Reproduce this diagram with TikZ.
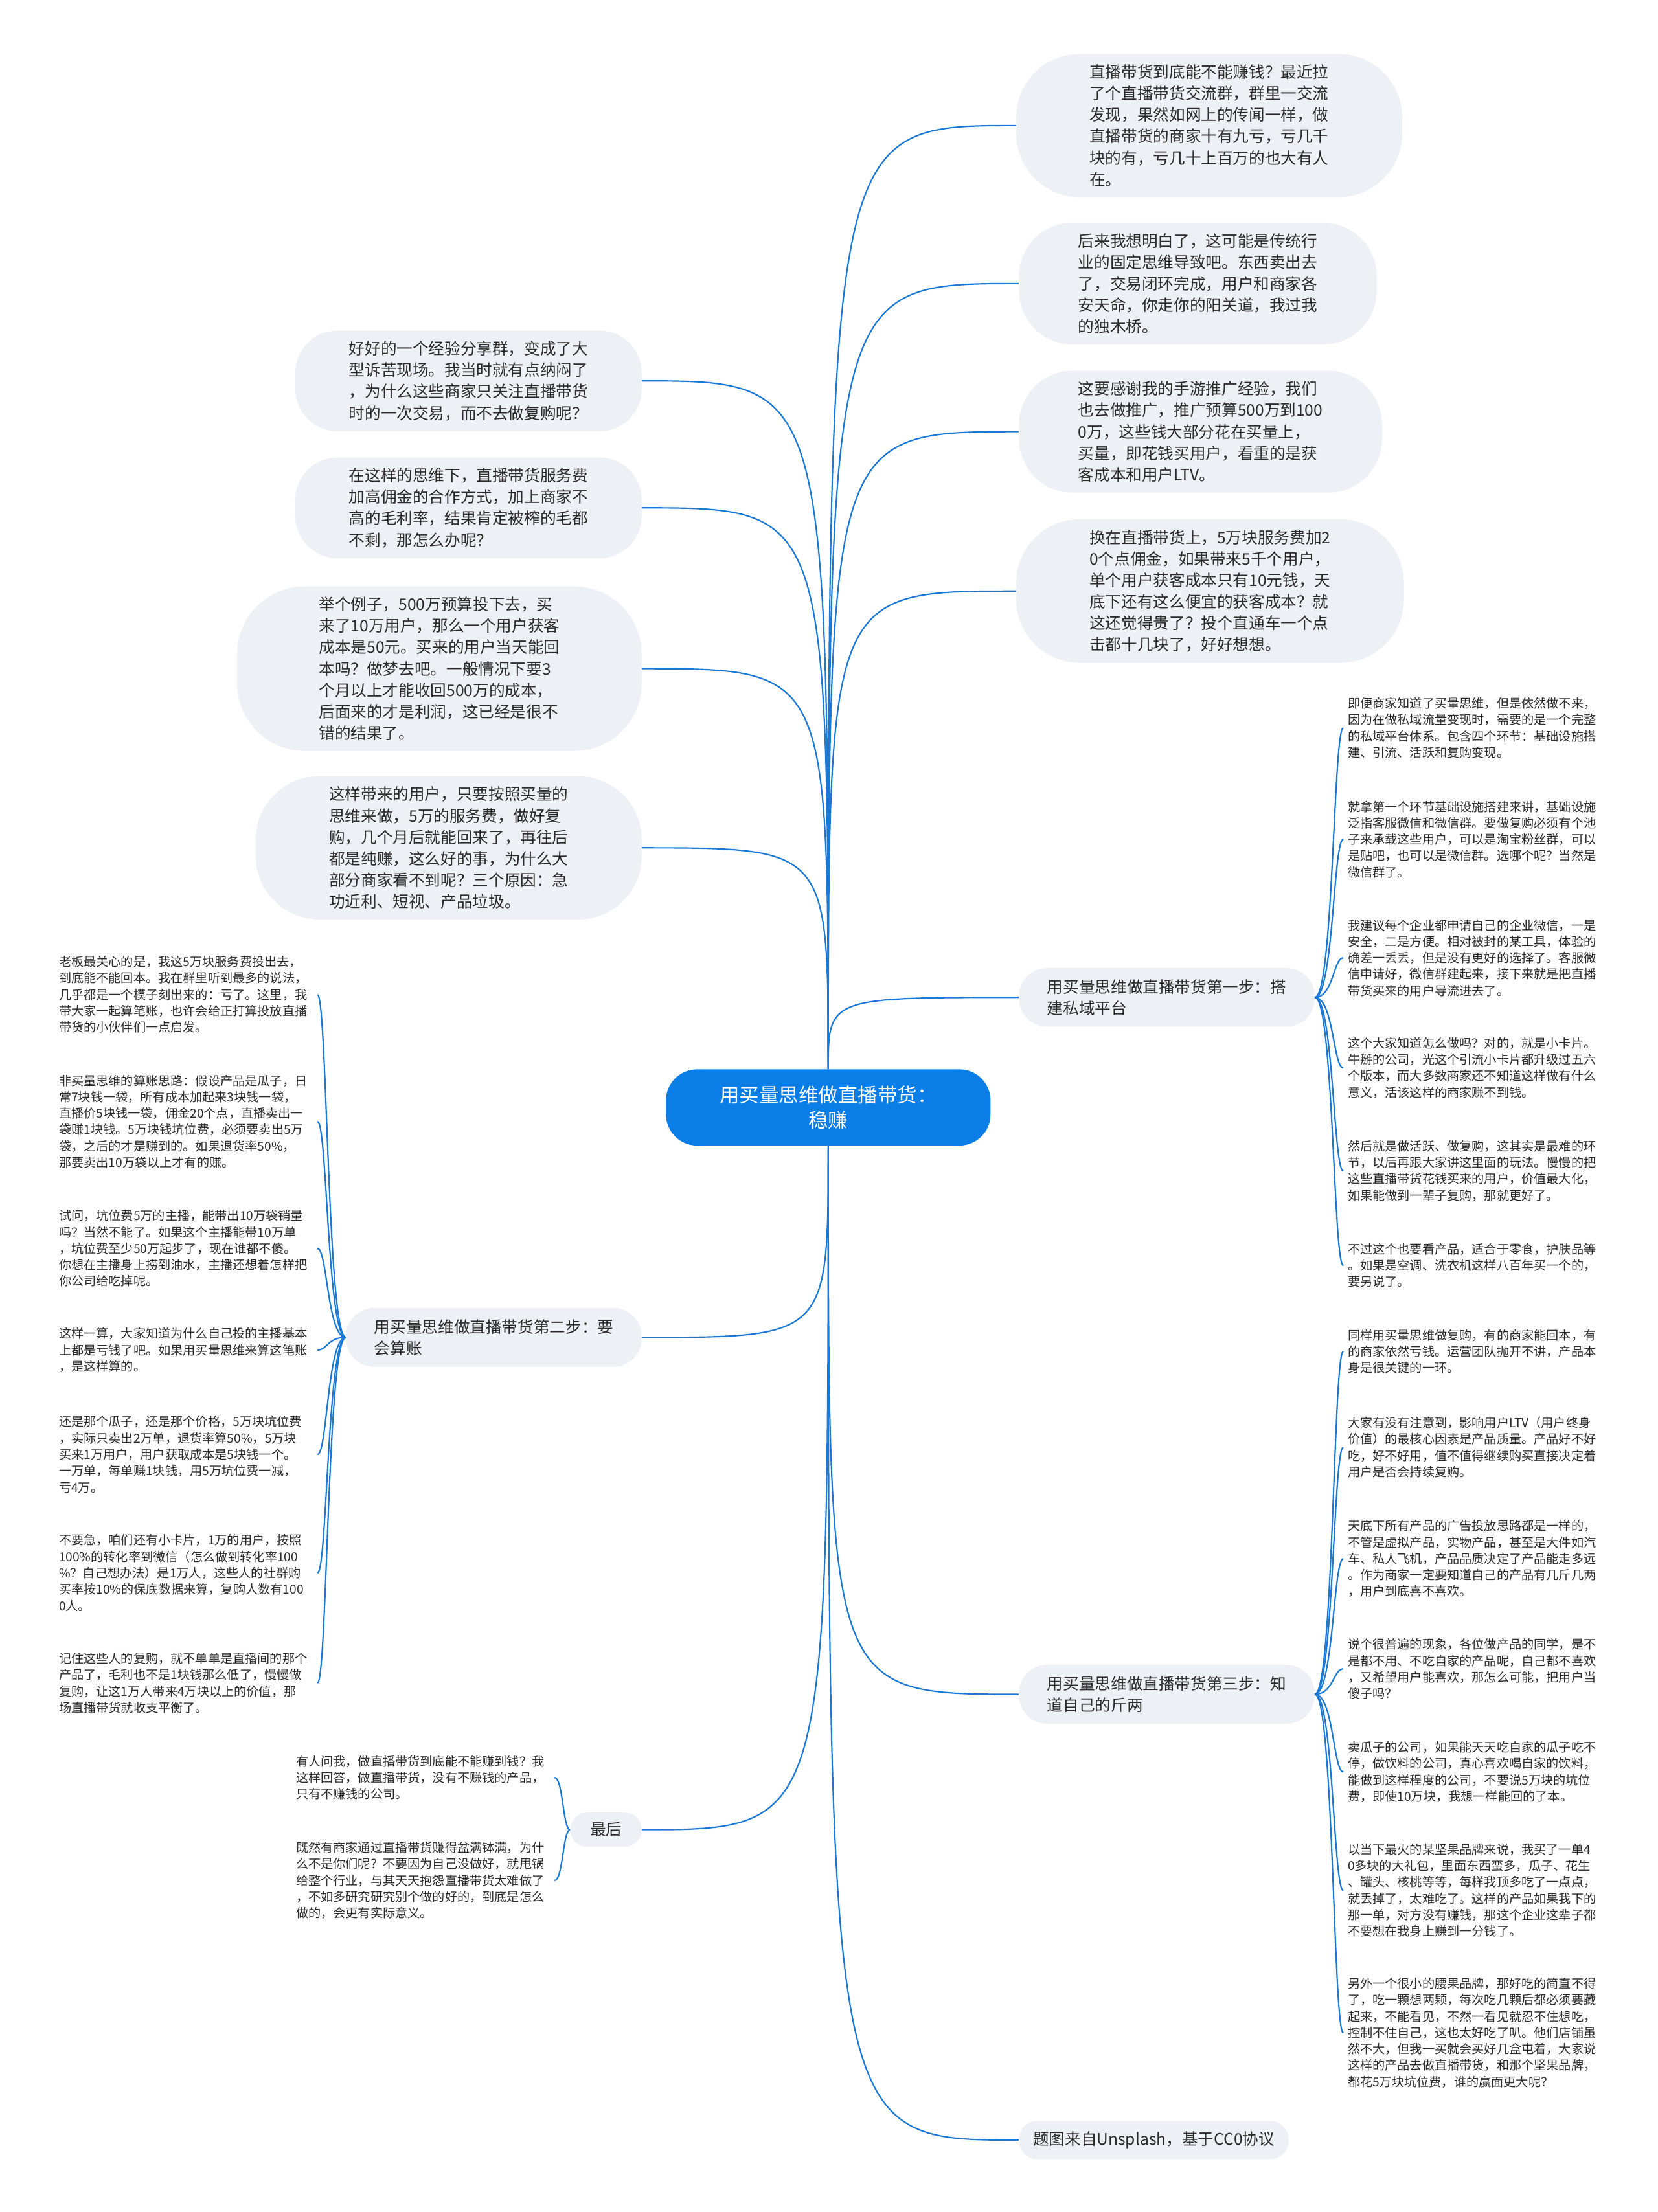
\documentclass[tikz,border=0pt]{standalone}
\usepackage{fontspec}
\setmainfont{Noto Sans CJK SC}
\usetikzlibrary{calc}
\definecolor{mapblue}{HTML}{1A78D6}
\definecolor{rootblue}{HTML}{0A7DE6}
\definecolor{bubblegray}{HTML}{EDF0F4}
\definecolor{inkgray}{HTML}{2B2B2B}
\tikzset{
  link/.style={draw=mapblue, line width=1pt},
  rootbox/.style={rectangle, rounded corners=22pt, fill=rootblue, text=white,
                  align=center, minimum width=230pt, minimum height=54pt,
                  font=\fontsize{14}{18}\selectfont},
  bubble/.style={rectangle, rounded corners=#1, fill=bubblegray, text=inkgray,
                 align=left, inner ysep=7.5pt, font=\fontsize{11.3}{15.2}\selectfont},
  bubble/.default=30pt,
  branch/.style={rectangle, rounded corners=#1, fill=bubblegray, text=inkgray,
                 align=left, inner xsep=20pt, inner ysep=8pt,
                 font=\fontsize{11.3}{15.2}\selectfont},
  branch/.default=20pt,
  note/.style={text width=180pt, inner sep=3pt, align=left, text=inkgray,
               font=\fontsize{8.8}{11.6}\selectfont},
}

\begin{document}
\begin{tikzpicture}[x=1pt, y=-1pt]
  \useasboundingbox[fill=white] (0,0) rectangle (1175,1568);

  % Root
  \node[rootbox] (root) at (587,785) {用买量思维做直播带货：\\稳赚};

  % Right bubbles
  \node[bubble=45pt, anchor=west, inner xsep=52pt] (r1) at (720,89)
    {直播带货到底能不能赚钱？最近拉\\了个直播带货交流群，群里一交流\\发现，果然如网上的传闻一样，做\\直播带货的商家十有九亏，亏几千\\块的有，亏几十上百万的也大有人\\在。};
  \node[bubble=38pt, anchor=west, inner xsep=42pt] (r2) at (722,201)
    {后来我想明白了，这可能是传统行\\业的固定思维导致吧。东西卖出去\\了，交易闭环完成，用户和商家各\\安天命，你走你的阳关道，我过我\\的独木桥。};
  \node[bubble=38pt, anchor=west, inner xsep=42pt] (r3) at (722,306)
    {这要感谢我的手游推广经验，我们\\也去做推广，推广预算500万到100\\0万，这些钱大部分花在买量上，\\买量，即花钱买用户，看重的是获\\客成本和用户LTV。};
  \node[bubble=45pt, anchor=west, inner xsep=52pt] (r4) at (720,419)
    {换在直播带货上，5万块服务费加2\\0个点佣金，如果带来5千个用户，\\单个用户获客成本只有10元钱，天\\底下还有这么便宜的获客成本？就\\这还觉得贵了？投个直通车一个点\\击都十几块了，好好想想。};

  % Left bubbles
  \node[bubble=30pt, anchor=east, inner xsep=38pt] (l1) at (455,270)
    {好好的一个经验分享群，变成了大\\型诉苦现场。我当时就有点纳闷了\\，为什么这些商家只关注直播带货\\时的一次交易，而不去做复购呢？};
  \node[bubble=30pt, anchor=east, inner xsep=38pt] (l2) at (455,360)
    {在这样的思维下，直播带货服务费\\加高佣金的合作方式，加上商家不\\高的毛利率，结果肯定被榨的毛都\\不剩，那怎么办呢？};
  \node[bubble=48pt, anchor=east, inner xsep=58pt] (l3) at (455,474)
    {举个例子，500万预算投下去，买\\来了10万用户，那么一个用户获客\\成本是50元。买来的用户当天能回\\本吗？做梦去吧。一般情况下要3\\个月以上才能收回500万的成本，\\后面来的才是利润，这已经是很不\\错的结果了。};
  \node[bubble=45pt, anchor=east, inner xsep=52pt] (l4) at (455,601)
    {这样带来的用户，只要按照买量的\\思维来做，5万的服务费，做好复\\购，几个月后就能回来了，再往后\\都是纯赚，这么好的事，为什么大\\部分商家看不到呢？三个原因：急\\功近利、短视、产品垃圾。};

  % Branches
  \node[branch, anchor=west] (b1) at (722,707) {用买量思维做直播带货第一步：搭\\建私域平台};
  \node[branch, anchor=east] (b2) at (455,948) {用买量思维做直播带货第二步：要\\会算账};
  \node[branch, anchor=west] (b3) at (722,1201) {用买量思维做直播带货第三步：知\\道自己的斤两};
  \node[branch=12pt, anchor=east, inner xsep=14pt, inner ysep=7pt] (b4) at (455,1297) {最后};
  \node[branch=13pt, anchor=west, inner xsep=10pt, inner ysep=7.5pt] (b5) at (722,1517) {题图来自Unsplash，基于CC0协议};

  % Step one notes
  \node[note, anchor=west] (s1a) at (952,516) {即便商家知道了买量思维，但是依然做不来，\\因为在做私域流量变现时，需要的是一个完整\\的私域平台体系。包含四个环节：基础设施搭\\建、引流、活跃和复购变现。};
  \node[note, anchor=west] (s1b) at (952,595) {就拿第一个环节基础设施搭建来讲，基础设施\\泛指客服微信和微信群。要做复购必须有个池\\子来承载这些用户，可以是淘宝粉丝群，可以\\是贴吧，也可以是微信群。选哪个呢？当然是\\微信群了。};
  \node[note, anchor=west] (s1c) at (952,679) {我建议每个企业都申请自己的企业微信，一是\\安全，二是方便。相对被封的某工具，体验的\\确差一丢丢，但是没有更好的选择了。客服微\\信申请好，微信群建起来，接下来就是把直播\\带货买来的用户导流进去了。};
  \node[note, anchor=west] (s1d) at (952,757) {这个大家知道怎么做吗？对的，就是小卡片。\\牛掰的公司，光这个引流小卡片都升级过五六\\个版本，而大多数商家还不知道这样做有什么\\意义，活该这样的商家赚不到钱。};
  \node[note, anchor=west] (s1e) at (952,830) {然后就是做活跃、做复购，这其实是最难的环\\节，以后再跟大家讲这里面的玩法。慢慢的把\\这些直播带货花钱买来的用户，价值最大化，\\如果能做到一辈子复购，那就更好了。};
  \node[note, anchor=west] (s1f) at (952,897) {不过这个也要看产品，适合于零食，护肤品等\\。如果是空调、洗衣机这样八百年买一个的，\\要另说了。};

  % Step two notes
  \node[note, anchor=east] (s2a) at (225,705) {老板最关心的是，我这5万块服务费投出去，\\到底能不能回本。我在群里听到最多的说法，\\几乎都是一个模子刻出来的：亏了。这里，我\\带大家一起算笔账，也许会给正打算投放直播\\带货的小伙伴们一点启发。};
  \node[note, anchor=east] (s2b) at (225,795) {非买量思维的算账思路：假设产品是瓜子，日\\常7块钱一袋，所有成本加起来3块钱一袋，\\直播价5块钱一袋，佣金20个点，直播卖出一\\袋赚1块钱。5万块钱坑位费，必须要卖出5万\\袋，之后的才是赚到的。如果退货率50\%，\\那要卖出10万袋以上才有的赚。};
  \node[note, anchor=east] (s2c) at (225,885) {试问，坑位费5万的主播，能带出10万袋销量\\吗？当然不能了。如果这个主播能带10万单\\，坑位费至少50万起步了，现在谁都不傻。\\你想在主播身上捞到油水，主播还想着怎样把\\你公司给吃掉呢。};
  \node[note, anchor=east] (s2d) at (225,957) {这样一算，大家知道为什么自己投的主播基本\\上都是亏钱了吧。如果用买量思维来算这笔账\\，是这样算的。};
  \node[note, anchor=east] (s2e) at (225,1031) {还是那个瓜子，还是那个价格，5万块坑位费\\，实际只卖出2万单，退货率算50\%，5万块\\买来1万用户，用户获取成本是5块钱一个。\\一万单，每单赚1块钱，用5万坑位费一减，\\亏4万。};
  \node[note, anchor=east] (s2f) at (225,1115) {不要急，咱们还有小卡片，1万的用户，按照\\100\%的转化率到微信（怎么做到转化率100\\\%？自己想办法）是1万人，这些人的社群购\\买率按10\%的保底数据来算，复购人数有100\\0人。};
  \node[note, anchor=east] (s2g) at (225,1193) {记住这些人的复购，就不单单是直播间的那个\\产品了，毛利也不是1块钱那么低了，慢慢做\\复购，让这1万人带来4万块以上的价值，那\\场直播带货就收支平衡了。};

  % Step three notes
  \node[note, anchor=west] (s3a) at (952,958) {同样用买量思维做复购，有的商家能回本，有\\的商家依然亏钱。运营团队抛开不讲，产品本\\身是很关键的一环。};
  \node[note, anchor=west] (s3b) at (952,1026) {大家有没有注意到，影响用户LTV（用户终身\\价值）的最核心因素是产品质量。产品好不好\\吃，好不好用，值不值得继续购买直接决定着\\用户是否会持续复购。};
  \node[note, anchor=west] (s3c) at (952,1105) {天底下所有产品的广告投放思路都是一样的，\\不管是虚拟产品，实物产品，甚至是大件如汽\\车、私人飞机，产品品质决定了产品能走多远\\。作为商家一定要知道自己的产品有几斤几两\\，用户到底喜不喜欢。};
  \node[note, anchor=west] (s3d) at (952,1183) {说个很普遍的现象，各位做产品的同学，是不\\是都不用、不吃自家的产品呢，自己都不喜欢\\，又希望用户能喜欢，那怎么可能，把用户当\\傻子吗？};
  \node[note, anchor=west] (s3e) at (952,1256) {卖瓜子的公司，如果能天天吃自家的瓜子吃不\\停，做饮料的公司，真心喜欢喝自家的饮料，\\能做到这样程度的公司，不要说5万块的坑位\\费，即使10万块，我想一样能回的了本。};
  \node[note, anchor=west] (s3f) at (952,1340) {以当下最火的某坚果品牌来说，我买了一单4\\0多块的大礼包，里面东西蛮多，瓜子、花生\\、罐头、核桃等等，每样我顶多吃了一点点，\\就丢掉了，太难吃了。这样的产品如果我下的\\那一单，对方没有赚钱，那这个企业这辈子都\\不要想在我身上赚到一分钱了。};
  \node[note, anchor=west] (s3g) at (952,1441) {另外一个很小的腰果品牌，那好吃的简直不得\\了，吃一颗想两颗，每次吃几颗后都必须要藏\\起来，不能看见，不然一看见就忍不住想吃，\\控制不住自己，这也太好吃了叭。他们店铺虽\\然不大，但我一买就会买好几盒屯着，大家说\\这样的产品去做直播带货，和那个坚果品牌，\\都花5万块坑位费，谁的赢面更大呢？};

  % Closing notes
  \node[note, anchor=east] (s4a) at (393,1260) {有人问我，做直播带货到底能不能赚到钱？我\\这样回答，做直播带货，没有不赚钱的产品，\\只有不赚钱的公司。};
  \node[note, anchor=east] (s4b) at (393,1333) {既然有商家通过直播带货赚得盆满钵满，为什\\么不是你们呢？不要因为自己没做好，就甩锅\\给整个行业，与其天天抱怨直播带货太难做了\\，不如多研究研究别个做的好的，到底是怎么\\做的，会更有实际意义。};

  % Root links
  \foreach \n in {r1,r2,r3,r4,b1}
    \draw[link] (root.north) .. controls (root.north |- \n.west) .. (\n.west);
  \foreach \n in {l1,l2,l3,l4}
    \draw[link] (root.north) .. controls (root.north |- \n.east) .. (\n.east);
  \foreach \n in {b3,b5}
    \draw[link] (root.south) .. controls (root.south |- \n.west) .. (\n.west);
  \foreach \n in {b2,b4}
    \draw[link] (root.south) .. controls (root.south |- \n.east) .. (\n.east);

  % Brackets
  \coordinate (j1) at (945,707);
  \coordinate (j2) at (232,948);
  \coordinate (j3) at (945,1201);
  \coordinate (j4) at (399,1297);
  \foreach \n in {s1a,s1b,s1c,s1d,s1e,s1f}
    \draw[link] (b1.east) .. controls (j1) and (j1 |- \n.west) .. (\n.west);
  \foreach \n in {s2a,s2b,s2c,s2d,s2e,s2f,s2g}
    \draw[link] (b2.west) .. controls (j2) and (j2 |- \n.east) .. (\n.east);
  \foreach \n in {s3a,s3b,s3c,s3d,s3e,s3f,s3g}
    \draw[link] (b3.east) .. controls (j3) and (j3 |- \n.west) .. (\n.west);
  \foreach \n in {s4a,s4b}
    \draw[link] (b4.west) .. controls (j4) and (j4 |- \n.east) .. (\n.east);
\end{tikzpicture}
\end{document}
